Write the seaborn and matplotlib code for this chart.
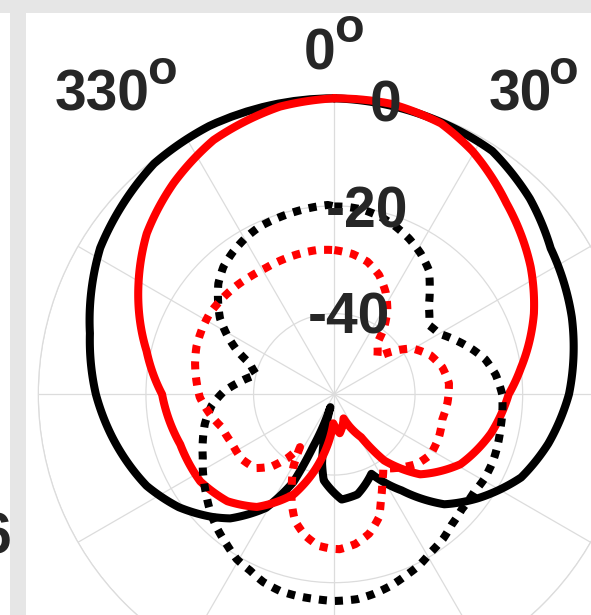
import numpy as np
import pandas as pd
import matplotlib
matplotlib.use("Agg")
import matplotlib.pyplot as plt
import seaborn as sns
from matplotlib.patches import Rectangle

# ---------------- data (angle in degrees, level in dB) ----------------
bs_deg = [0, 25, 33, 45, 56, 72, 90, 103, 114, 126, 135, 145, 155, 167, 176, 187, 190, 192,
          197, 202, 205, 211, 220, 225, 234, 244, 259, 270, 284, 302, 315, 322, 335, 360]
bs_db = [0, -0.8, -1.1, -3.6, -6.5, -8.6, -11.4, -14.2, -17.0, -22.1, -26.1, -33.2, -38.7, -35.9,
         -35.4, -38.9, -41.9, -45.0, -52.5, -44.5, -37.0, -30.4, -24.9, -22.8, -19.3, -16.2, -13.0,
         -10.7, -8.2, -3.7, -1.7, -0.6, 0, 0]

rs_deg = [0, 11, 21.5, 29.5, 42, 57, 68, 82, 90, 104, 119, 133, 143, 148, 159, 172, 182, 188,
          195, 202, 214.5, 225, 237, 252, 270, 283, 299.5, 310.6, 322.7, 334.6, 349.3, 360]
rs_db = [0, 0, -0.9, -3.0, -7.2, -11.5, -15.0, -20.0, -22.6, -25.0, -28.2, -33.2, -39.6, -45.6,
         -50.2, -47.7, -49.6, -45.2, -40.0, -35.0, -29.6, -26.9, -25.3, -24.9, -23.0, -19.2,
         -13.2, -9.1, -5.7, -2.7, -0.6, 0]

bd_deg = [0, 4, 9, 14.6, 20, 25.6, 31.5, 37.3, 42, 47, 54, 60, 66, 72, 77, 83, 90, 96, 101,
          107.5, 113, 119.5, 125, 132, 138, 143, 148.6, 153.7, 158.5, 163.6, 168.8, 173.6, 180,
          185.4, 190.6, 195.5, 200.7, 205.5, 210.6, 215.7, 221.5, 227, 232, 238, 244.4, 250.6,
          257, 264.7, 271.3, 276.4, 284, 290, 294.4, 299, 303.6, 309, 313.7, 319, 324.7, 331,
          336, 358, 360]
bd_db = [-20.1, -20.1, -20.3, -20.9, -21.8, -22.9, -24.3, -26.0, -28.5, -31.0, -33.2, -32.5,
         -30.3, -28.0, -26.2, -24.8, -23.8, -23.6, -23.5, -23.2, -23.0, -23.0, -23.3, -23.1,
         -22.4, -21.4, -20.6, -19.5, -18.8, -17.9, -17.2, -16.7, -16.6, -16.8, -16.9, -17.1,
         -17.7, -18.7, -19.4, -20.7, -22.0, -23.4, -24.8, -26.3, -27.9, -29.1, -30.3, -32.1,
         -34.4, -36.8, -40.1, -38.3, -35.1, -32.2, -29.5, -27.2, -25.2, -23.6, -22.5, -21.5,
         -20.9, -19.8, -20.1]

rd_deg = [0, 7.3, 14, 20.5, 26.8, 32.4, 37, 40, 49, 54, 59.5, 68, 76, 84.5, 94, 103, 112, 122,
          130, 138, 146.5, 151.4, 156.4, 160, 166, 172, 178, 181, 186, 191.7, 197.3, 201.5,
          205.4, 209.3, 213, 216, 221, 227, 235, 244.5, 253.7, 261, 268.7, 275.2, 282.5, 289,
          296, 303, 310, 317, 324, 331, 338.6, 345.6, 353, 360]
rd_db = [-28.2, -28.7, -29.6, -31.3, -33.8, -36.6, -39.7, -42.6, -44.4, -41.3, -38.2, -35.7,
         -34.3, -33.6, -33.9, -34.4, -34.0, -33.9, -34.9, -36.7, -38.5, -36.4, -33.4, -30.7,
         -28.3, -26.9, -26.2, -26.3, -26.7, -28.2, -30.4, -33.4, -36.6, -39.4, -43.3, -40.5,
         -37.2, -34.9, -34.0, -33.9, -33.2, -31.6, -30.0, -29.3, -28.5, -27.9, -27.6, -27.4,
         -27.6, -27.8, -28.1, -28.3, -28.2, -28.1, -28.0, -28.2]

r_ticks = [-40, -20, 0]
r_tick_labels = ["-40", "-20", "0"]
theta_labels = ["0", "30", "330"]

# ---------------- style ----------------
sns.set_theme(style="white")
plt.rcParams["font.family"] = ["Liberation Sans", "DejaVu Sans"]

W, H = 591, 615
fig = plt.figure(figsize=(W / 100, H / 100), dpi=100)
fig.patch.set_facecolor("white")
cx, cy, R = 334.3, 394.3, 296
ax = fig.add_axes([(cx - R) / W, (H - cy - R) / H, 2 * R / W, 2 * R / H], projection="polar")
ax.set_theta_zero_location("N")
ax.set_theta_direction(-1)
ax.set_ylim(-55, 0)
ax.set_yticks(r_ticks)
ax.set_yticklabels([])
ax.set_xticks(np.deg2rad(np.arange(0, 360, 30)))
ax.set_xticklabels([])
ax.grid(True, color="#dcdcdc", lw=0.9)
ax.spines["polar"].set_color("#dcdcdc")
ax.spines["polar"].set_linewidth(0.9)
ax.set_facecolor("white")

series = [
    (bs_deg, bs_db, "#000000", "-", 3),
    (rs_deg, rs_db, "#ff0000", "-", 4),
    (bd_deg, bd_db, "#000000", (0, (1, 1)), 5),
    (rd_deg, rd_db, "#ff0000", (0, (1, 1)), 6),
]
for deg, db, col, ls, z in series:
    df = pd.DataFrame({"theta": np.deg2rad(deg), "level": db})
    sns.lineplot(data=df, x="theta", y="level", ax=ax, color=col, lw=5.8,
                 linestyle=ls, sort=False, estimator=None, clip_on=False, zorder=z)
    line = ax.lines[-1]
    line.get_path()._interpolation_steps = 40   # draw segments as polar arcs
    line.set_solid_joinstyle("round")
ax.set_xlabel("")
ax.set_ylabel("")

txt_col = "#262626"
fs = 41
# radial labels
for rv, lab in zip(r_ticks, r_tick_labels):
    ax.text(np.deg2rad(10), rv + 0.4, lab, ha="center", va="center_baseline",
            fontsize=fs, fontweight="bold", color=txt_col, clip_on=False, zorder=10)

# angular labels (digits + raised "o"), positions in figure pixels
theta_pos = [((304, 69), (334, 42)), ((489, 111), (548, 84)), ((55, 111), (147, 84))]
for lab, ((dx, dy), (ox, oy)) in zip(theta_labels, theta_pos):
    fig.text(dx / W, 1 - dy / H, lab, ha="left", va="baseline", fontsize=fs,
             fontweight="bold", color=txt_col)
    fig.text(ox / W, 1 - oy / H, "o", ha="left", va="baseline", fontsize=35,
             fontweight="bold", color=txt_col)

# neighbouring panel frame
strip = "#e6e6e6"
fig.add_artist(Rectangle((0, 1 - 13 / H), 1, 13 / H, transform=fig.transFigure,
                         facecolor=strip, edgecolor="none", zorder=20))
fig.add_artist(Rectangle((10 / W, 0), 16 / W, 1 - 13 / H, transform=fig.transFigure,
                         facecolor=strip, edgecolor="none", zorder=20))
fig.text(12 / W, 1 - 533 / H, "6", ha="right", va="center_baseline", fontsize=fs,
         fontweight="bold", color=txt_col)

fig.savefig("out.png", dpi=100)
